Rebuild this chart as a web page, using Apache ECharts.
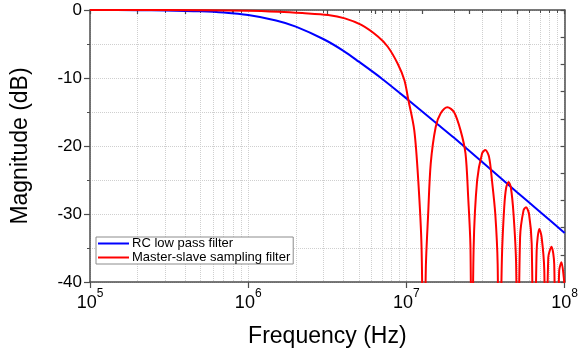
<!DOCTYPE html>
<html><head><meta charset="utf-8">
<script src="https://cdn.jsdelivr.net/npm/echarts@6/dist/echarts.min.js"></script>
<style>html,body{margin:0;padding:0;background:#fff}#c{width:581px;height:354px}</style>
</head><body><div id="c"></div>
<script>
const seriesNames = ['RC low pass filter', 'Master-slave sampling filter'];

// RC low pass filter (Hz, dB)
const rcFreq = [1e5, 2e5, 3e5, 5e5, 7e5, 1e6, 1.5e6, 2e6, 3e6, 4e6, 5e6, 7e6, 1e7, 1.5e7, 2e7, 3e7, 5e7, 7e7, 1e8];
const rcDb   = [0, -0.03, -0.07, -0.2, -0.38, -0.75, -1.54, -2.44, -4.3, -6.0, -7.6, -10.1, -13.0, -16.4, -18.8, -22.3, -26.8, -29.7, -32.8];

// Master-slave sampling filter (Hz, dB)
const msFreq = [1e5, 3e5, 1e6, 1.56e6, 2.2e6, 3.2e6, 4.08e6, 5.19e6, 6.6e6, 7.62e6, 8.81e6, 9.7e6, 1.028e7, 1.121e7, 1.188e7, 1.246e7,
  1.291e7, 1.326e7, 1.372e7, 1.424e7, 1.531e7, 1.646e7, 1.814e7, 1.998e7, 2.198e7, 2.362e7, 2.456e7, 2.539e7,
  2.587e7, 2.659e7, 2.797e7, 3.006e7, 3.154e7, 3.327e7, 3.474e7, 3.644e7, 3.772e7,
  3.844e7, 4.014e7, 4.15e7, 4.271e7, 4.421e7, 4.571e7, 4.753e7, 4.935e7,
  5.036e7, 5.228e7, 5.492e7, 5.702e7, 5.954e7, 6.191e7,
  6.4e7, 6.655e7, 6.918e7, 7.152e7, 7.436e7,
  7.577e7, 7.88e7, 8.264e7, 8.593e7,
  8.793e7, 9.237e7, 9.548e7, 9.871e7, 1e8];
const msDb = [0, -0.01, -0.1, -0.25, -0.45, -0.74, -1.23, -2.2, -3.9, -5.4, -7.9, -10.3, -13.2, -17.7, -25.1, -34.9,
  -60, -38, -30, -22.6, -17.2, -15.2, -14.3, -15.0, -17.7, -21.1, -27.5, -34.9,
  -60, -35, -25.1, -21.1, -20.6, -21.6, -25.1, -30, -37.4,
  -60, -36.4, -29, -26.1, -25.3, -26.1, -30, -37.4,
  -60, -33.4, -29.5, -29.0, -30, -34.4,
  -60, -35.4, -32.2, -33.4, -38.3,
  -60, -36.4, -34.8, -37.4,
  -60, -38.3, -37.1, -39.3, -41];

const xMinorTicks = [2e5, 3e5, 4e5, 5e5, 6e5, 7e5, 8e5, 9e5,
  2e6, 3e6, 4e6, 5e6, 6e6, 7e6, 8e6, 9e6,
  2e7, 3e7, 4e7, 5e7, 6e7, 7e7, 8e7, 9e7];

const font = "'Liberation Sans', Arial, sans-serif";
const axisColor = '#4d4d4d';
const gridLine = { show: true, lineStyle: { color: '#cfcfcf', type: 'dotted', width: 1 } };

const chart = echarts.init(document.getElementById('c'), null, { renderer: 'canvas' });
chart.setOption({
  animation: false,
  backgroundColor: '#fff',
  textStyle: { fontFamily: font },
  grid: { left: 90, right: 13, top: 10, bottom: 72, containLabel: false },
  legend: {
    show: true, orient: 'vertical', left: 96, top: 237,
    padding: [0, 3, 0, 1], itemGap: 1, itemWidth: 31, itemHeight: 15,
    borderColor: '#8c8c8c', borderWidth: 1, backgroundColor: '#fff',
    itemStyle: { color: 'rgba(0,0,0,0)', borderWidth: 0, opacity: 0 },
    lineStyle: { width: 2 },
    textStyle: { fontSize: 13, color: '#000', fontFamily: font, padding: [0, 0, 0, -2] },
    data: seriesNames
  },
  xAxis: [
    {
      type: 'log', logBase: 10, min: 1e5, max: 1e8, position: 'bottom',
      axisLine: { show: true, onZero: false, lineStyle: { color: axisColor, width: 1.5 } },
      axisTick: { show: true, inside: false, length: 6, lineStyle: { color: axisColor, width: 1.2 } },
      minorTick: { show: false },
      axisLabel: {
        margin: 6, color: '#000',
        formatter: function (v) { return '{b|10}{s|' + Math.round(Math.log10(v)) + '}'; },
        rich: {
          b: { fontSize: 18, fontFamily: font, color: '#000', lineHeight: 24, verticalAlign: 'bottom' },
          s: { fontSize: 12, fontFamily: font, color: '#000', lineHeight: 12, verticalAlign: 'top' }
        }
      },
      splitLine: gridLine,
      name: 'Frequency (Hz)', nameLocation: 'middle', nameGap: 43,
      nameTextStyle: { fontSize: 23, color: '#000', fontFamily: font }
    },
    {
      type: 'log', logBase: 10, min: 1e5, max: 1e8, position: 'bottom',
      axisLine: { show: false },
      axisTick: { show: true, inside: false, length: 3, customValues: xMinorTicks, lineStyle: { color: axisColor, width: 1 } },
      axisLabel: { show: false },
      splitLine: gridLine
    },
    {
      type: 'value', min: 0, max: 10, interval: 1, position: 'top',
      axisLine: { show: true, onZero: false, lineStyle: { color: axisColor, width: 1.5 } },
      axisTick: { show: true, inside: true, length: 4, lineStyle: { color: axisColor, width: 1.2 } },
      axisLabel: { show: false }, splitLine: { show: false }
    }
  ],
  yAxis: [
    {
      type: 'value', min: -40, max: 0, interval: 10, position: 'left',
      axisLine: { show: true, onZero: false, lineStyle: { color: axisColor, width: 1.5 } },
      axisTick: { show: true, inside: false, length: 6, lineStyle: { color: axisColor, width: 1.2 } },
      minorTick: { show: true, splitNumber: 2, length: 3, lineStyle: { color: axisColor, width: 1 } },
      minorSplitLine: gridLine,
      splitLine: gridLine,
      axisLabel: { fontSize: 17, color: '#000', margin: 8, fontFamily: font },
      name: 'Magnitude (dB)', nameLocation: 'middle', nameGap: 58, nameRotate: 90,
      nameTextStyle: { fontSize: 23, color: '#000', fontFamily: font }
    },
    {
      type: 'value', min: 0, max: 10, interval: 1, position: 'right',
      axisLine: { show: true, onZero: false, lineStyle: { color: axisColor, width: 1.5 } },
      axisTick: { show: true, inside: true, length: 4, lineStyle: { color: axisColor, width: 1.2 } },
      axisLabel: { show: false }, splitLine: { show: false }
    }
  ],
  series: [
    {
      name: seriesNames[0], type: 'line', xAxisIndex: 0, yAxisIndex: 0,
      data: rcFreq.map((f, i) => [f, rcDb[i]]),
      showSymbol: false, symbol: 'none', smooth: 0.3, clip: true,
      lineStyle: { color: '#0000ff', width: 2 }, itemStyle: { color: '#0000ff' }, z: 3
    },
    {
      name: seriesNames[1], type: 'line', xAxisIndex: 0, yAxisIndex: 0,
      data: msFreq.map((f, i) => [f, msDb[i]]),
      showSymbol: false, symbol: 'none', smooth: 0.3, clip: true,
      lineStyle: { color: '#ff0000', width: 2 }, itemStyle: { color: '#ff0000' }, z: 4
    }
  ]
});
</script>
</body></html>
